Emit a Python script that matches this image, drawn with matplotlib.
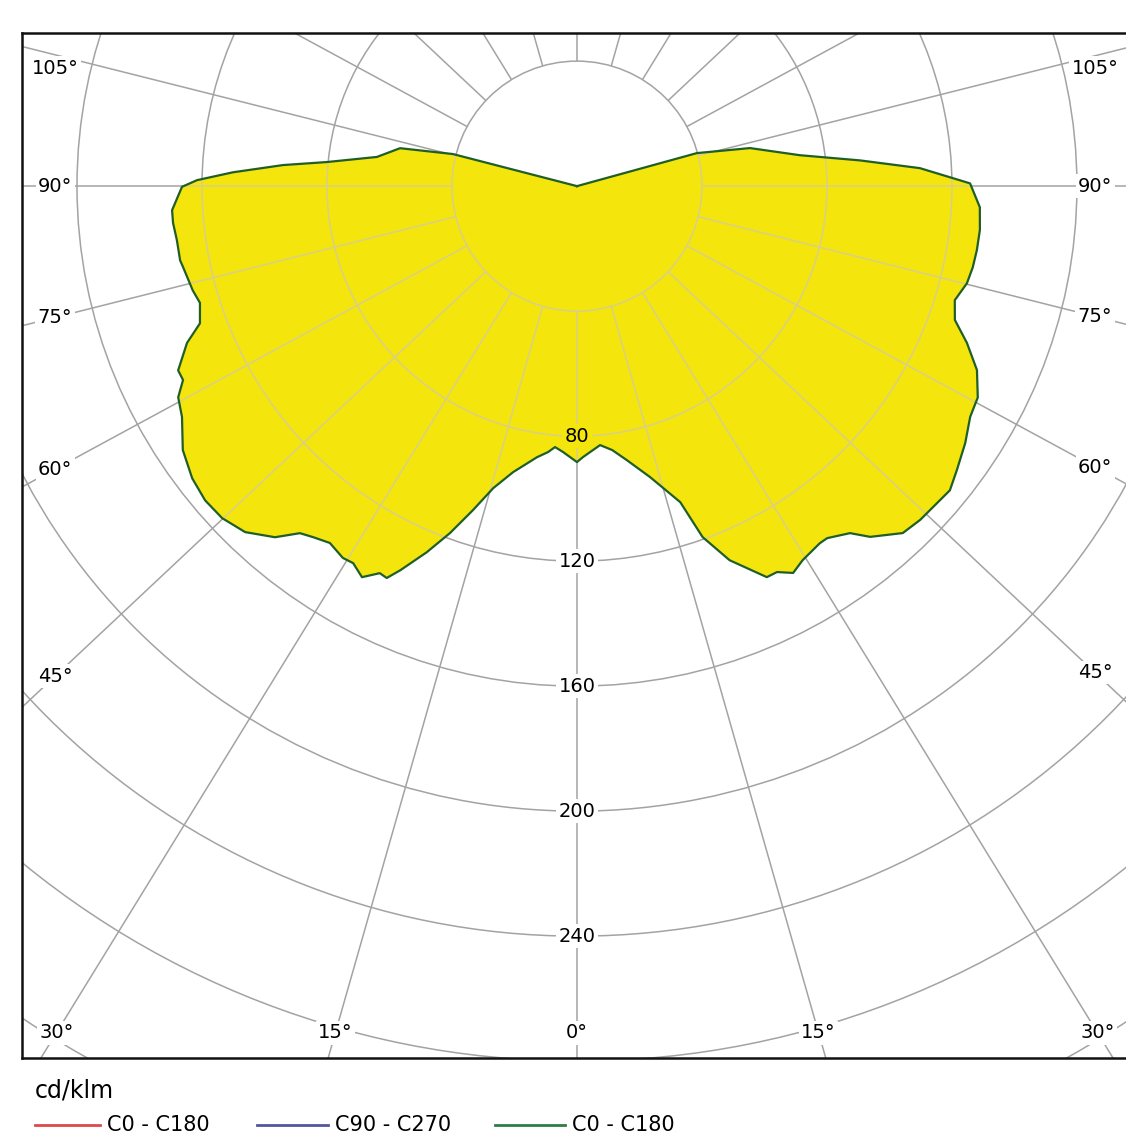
import numpy as np
import matplotlib
matplotlib.use("Agg")
import matplotlib.pyplot as plt
from matplotlib.lines import Line2D
from matplotlib.patches import Circle, Polygon


### DATA - luminous intensity in cd/klm
# left half of the diagram (C180)
gamma_left = [0, 3.0, 4.8, 6.2, 8.4, 12.6, 15.5, 17.8, 20.1, 22.3, 24.7, 25.9,
              27.0, 28.8, 30.7, 32.2, 34.7, 36.9, 38.6, 40.7, 43.8, 46.9, 49.8,
              52.8, 56.2, 59.7, 62.1, 63.8, 65.2, 68.1, 70.0, 72.8, 74.8, 78.4,
              79.4, 82.3, 84.8, 86.6, 89.9, 90.9, 92.3, 94.1, 95.5, 98.3, 102.1,
              104.5, 105.0]
cd_left = [88.3, 85.2, 83.8, 85.6, 87.7, 93.8, 100.3, 108.9, 118.2, 126.6, 135.3,
           139.4, 139.0, 142.8, 140.3, 140.6, 138.9, 140.5, 142.1, 148.2, 153.4,
           155.5, 155.8, 154.6, 151.8, 146.4, 144.4, 140.5, 140.6, 134.5, 128.4,
           126.3, 127.4, 128.7, 129.2, 129.2, 129.8, 129.8, 126.4, 121.6, 110.2,
           94.3, 80.4, 64.7, 57.9, 41.0, 0.0]

# right half of the diagram (C0)
gamma_right = [0, 1.3, 5.1, 7.6, 10.3, 14.1, 18.1, 19.7, 22.2, 25.9, 27.4, 29.2,
               31.1, 34.2, 35.4, 38.2, 39.9, 43.2, 45.8, 49.1, 50.8, 53.2, 56.5,
               59.6, 62.2, 65.3, 68.1, 70.5, 73.2, 76.0, 78.4, 80.9, 83.8, 87.0,
               90.4, 93.0, 95.2, 97.9, 102.4, 105.4, 106.0]
cd_right = [88.3, 86.7, 83.2, 85.2, 89.1, 96.0, 106.4, 119.3, 129.3, 139.1, 139.1,
            141.8, 139.8, 138.2, 138.2, 141.3, 146.3, 152.3, 153.2, 153.6, 154.0,
            151.8, 149.0, 145.9, 145.0, 140.9, 134.5, 128.3, 126.3, 128.6, 129.3,
            129.6, 129.7, 129.1, 125.8, 109.9, 90.9, 72.0, 56.7, 39.8, 0.0]

ring_values = [40, 80, 120, 160, 200, 240, 280, 320]
ring_labels = [80, 120, 160, 200, 240]
spoke_angles = [0, 15, 30, 45, 60, 75, 90, 105, 120, 135, 150, 165, 180]
labelled_angles = [0, 15, 30, 45, 60, 75, 90, 105]

legend_names = ["C0 - C180", "C90 - C270", "C0 - C180"]
legend_colors = ["#e0474c", "#55559e", "#2f7d45"]


### LAYOUT / STYLE
W, H = 1126, 1142
XLIM = (-177.6, 175.7)
YLIM = (-279.0, 49.0)
SPOKE_SPREAD = 1.065           # spokes in the source are splayed slightly
LBL_X, LBL_TOP, LBL_BOTTOM = (-167.0, 165.8), 37.8, -271.0

GRID = "#a3a3a3"
GRID_ON_FILL = "#d8cf8a"
FILL = "#f4e50c"
EDGE = "#1f5f27"


def polar_xy(gamma, r, side):
    g = np.radians(np.asarray(gamma, dtype=float))
    r = np.asarray(r, dtype=float)
    return side * r * np.sin(g), -r * np.cos(g)


def spoke_dir(gamma, side):
    g = np.radians(gamma)
    d = np.array([side * SPOKE_SPREAD * np.sin(g), -np.cos(g)])
    return d / np.hypot(*d)


def draw_grid(ax, color, z, clip=None):
    arts = []
    for r in ring_values:
        c = Circle((0, 0), r, fill=False, ec=color, lw=1.1, zorder=z)
        ax.add_patch(c)
        arts.append(c)
    for g in spoke_angles:
        for side in ([1] if g in (0, 180) else [-1, 1]):
            d = spoke_dir(g, side)
            ln, = ax.plot([40 * d[0], 500 * d[0]], [40 * d[1], 500 * d[1]],
                          color=color, lw=1.1, zorder=z, solid_capstyle="butt")
            arts.append(ln)
    if clip is not None:
        for a in arts:
            a.set_clip_path(clip)


fig = plt.figure(figsize=(W / 100, H / 100), dpi=100)
ax = fig.add_axes([22 / W, 84 / H, 1 - 22 / W, 1025 / H])
ax.set_xlim(*XLIM)
ax.set_ylim(*YLIM)
ax.set_xticks([])
ax.set_yticks([])
for name, sp in ax.spines.items():
    sp.set_linewidth(1.8)
    sp.set_color("#111111")
ax.spines["right"].set_visible(False)

# grid below the curve
draw_grid(ax, GRID, 1)

# intensity curve
xl, yl = polar_xy(gamma_left, cd_left, -1)
xr, yr = polar_xy(gamma_right, cd_right, 1)
xs = np.concatenate([[0], xl[::-1], xr, [0]])
ys = np.concatenate([[0], yl[::-1], yr, [0]])
poly = Polygon(np.column_stack([xs, ys]), closed=True, fc=FILL, ec="none", zorder=2)
ax.add_patch(poly)

# grid seen through the yellow fill
draw_grid(ax, GRID_ON_FILL, 3, clip=poly)

ax.plot(xs, ys, color=EDGE, lw=1.6, zorder=5)

# ring labels on the 0 deg axis
for v in ring_labels:
    fc = FILL if v == 80 else "white"
    ax.text(0, -v, str(v), ha="center", va="center", fontsize=14, zorder=4 if v == 80 else 6,
            bbox=dict(boxstyle="square,pad=0.12", fc=fc, ec="none"))

# angle labels where the spokes leave the frame
for g in labelled_angles:
    for side in ([1] if g == 0 else [-1, 1]):
        d = spoke_dir(g, side)
        if g <= 30:
            t = LBL_BOTTOM / d[1]
        else:
            lx = LBL_X[0] if side < 0 else LBL_X[1]
            t = lx / d[0]
        px, py = t * d
        py = min(py, LBL_TOP)
        ax.text(px, py, f"{g}°", ha="center", va="center", fontsize=14, zorder=6,
                bbox=dict(boxstyle="square,pad=0.12", fc="white", ec="none"))

# legend under the frame
fig.text(35 / W, 1 - 1090 / H, "cd/klm", fontsize=17, va="center", ha="left")
seg_x = [(35, 100), (257, 328), (495, 565)]
yleg = 1 - 1125 / H
for (x0, x1), name, col in zip(seg_x, legend_names, legend_colors):
    fig.add_artist(Line2D([x0 / W, x1 / W], [yleg, yleg], transform=fig.transFigure,
                          color=col, lw=2))
    fig.text((x1 + 7) / W, yleg, name, fontsize=15, va="center", ha="left")

fig.savefig("out.png", dpi=100)
